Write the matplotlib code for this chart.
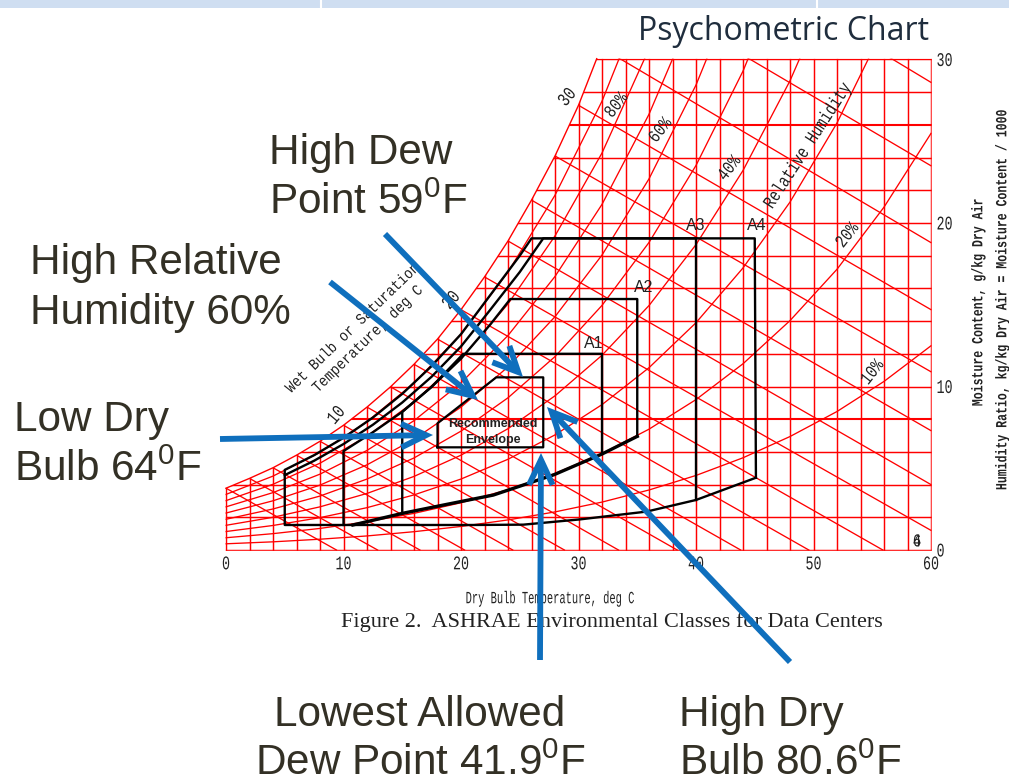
import matplotlib
matplotlib.use("Agg")
import matplotlib.pyplot as plt
from matplotlib.patches import Polygon, Rectangle
from matplotlib.patheffects import AbstractPathEffect
from matplotlib.transforms import Affine2D

plt.rcParams["font.family"] = ["Liberation Sans", "DejaVu Sans"]
plt.rcParams["mathtext.fontset"] = "custom"
plt.rcParams["mathtext.rm"] = "Liberation Sans"
plt.rcParams["mathtext.default"] = "rm"

# chart values
grid_t = list(range(0, 62, 2))
grid_w = list(range(0, 32, 2))

# saturation curve, deg C / g/kg
sat_t = [0, 2, 4, 6, 8, 10, 12, 14, 16, 18, 20, 22, 24, 26, 28, 30, 31.55]
sat_w = [3.78, 4.38, 5.03, 5.80, 6.65, 7.63, 8.74, 9.98, 11.36, 12.9, 14.7, 16.7, 18.9, 21.4, 24.1, 27.2, 30.05]

# relative humidity curves, read every 4 deg C
rh_t = [0, 4, 8, 12, 16, 20, 24, 28, 32, 36, 40, 44, 48, 52, 56, 60]
rh10 = [0.38, 0.50, 0.66, 0.86, 1.12, 1.44, 1.84, 2.33, 2.93, 3.67, 4.56, 5.64, 6.94, 8.47, 10.31, 12.49]
rh20 = [0.75, 1.00, 1.32, 1.73, 2.24, 2.89, 3.69, 4.68, 5.90, 7.39, 9.20, 11.39, 14.03, 17.17, 20.97, 25.48]
rh30 = [1.13, 1.50, 1.98, 2.59, 3.37, 4.34, 5.55, 7.04, 8.89, 11.15, 13.90, 17.25, 21.28, 26.12, 31.99]
rh40 = [1.51, 2.00, 2.64, 3.46, 4.50, 5.80, 7.42, 9.43, 11.91, 14.95, 18.68, 23.21, 28.70, 35.3]
rh50 = [1.88, 2.51, 3.30, 4.34, 5.63, 7.27, 9.31, 11.83, 14.96, 18.81, 23.52, 29.29, 36.3]
rh60 = [2.26, 3.01, 3.97, 5.21, 6.77, 8.74, 11.2, 14.27, 18.04, 22.70, 28.44, 35.5]
rh70 = [2.64, 3.51, 4.64, 6.09, 7.91, 10.22, 13.12, 16.73, 21.14, 26.65, 33.4]
rh80 = [3.02, 4.02, 5.31, 6.96, 9.06, 11.71, 15.05, 19.21, 24.28, 30.65]
rh90 = [3.40, 4.52, 5.97, 7.85, 10.21, 13.2, 17.0, 21.7, 27.45, 34.6]
rh_curves = [rh10, rh20, rh30, rh40, rh50, rh60, rh70, rh80, rh90]

# wet bulb lines, every 2 deg C: start on saturation, end on w=0 or on the right edge
wb_t0 = [0, 2, 4, 6, 8, 10, 12, 14, 16, 18, 20, 22, 24, 26, 28, 30, 32, 34, 36]
wb_w0 = [3.78, 4.38, 5.03, 5.80, 6.65, 7.63, 8.74, 9.98, 11.36, 12.9, 14.7, 16.7, 18.9, 21.4, 24.1, 27.2, 30.7, 34.5, 39.0]
wb_t1 = [9.4, 12.9, 16.5, 20.3, 24.4, 28.8, 33.4, 38.4, 43.8, 49.6, 55.9, 60, 60, 60, 60, 60, 60, 60, 60]
wb_w1 = [0, 0, 0, 0, 0, 0, 0, 0, 0, 0, 0, 1.2, 4.0, 7.3, 10.9, 14.7, 18.8, 23.5, 28.6]

# envelopes
rec_t = [18, 18, 23, 27, 27, 18]
rec_w = [6.28, 7.75, 10.56, 10.56, 6.28, 6.28]
a1_t = [32, 32, 20.2, 17.5, 15, 15]
a1_w = [5.9, 12.0, 12.0, 9.98, 8.45, 2.24]
a2_t = [35, 35, 24.2, 22.5, 20, 17.5, 15, 12.5, 10, 10]
a2_w = [6.95, 15.35, 15.35, 13.8, 11.7, 9.98, 8.45, 7.2, 6.05, 1.53]
a3_t = [40, 40, 27, 25, 22.5, 20, 17.5, 15, 12.5, 10, 7.5, 5]
a3_w = [3.06, 19.06, 19.06, 17.0, 14.7, 12.45, 10.6, 9.02, 7.66, 6.48, 5.46, 4.58]
a4_t = [45.1, 45, 26, 25, 22.5, 20, 17.5, 15, 12.5, 10, 7.5, 5, 5, 21, 25.3, 30.1, 35.8, 40, 45.1]
a4_w = [4.42, 19.06, 19.06, 18.0, 15.6, 13.2, 11.25, 9.55, 8.1, 6.86, 5.8, 4.9, 1.53, 1.53, 1.55, 1.87, 2.35, 3.06, 4.42]
low_t = [10.8, 15, 18.5, 22.75, 27.9, 32, 35]
low_w = [1.53, 2.24, 2.75, 3.36, 4.6, 5.87, 6.95]

xticks = [0, 10, 20, 30, 40, 50, 60]
yticks = [0, 10, 20, 30]

# arrows in picture pixels: (from x, from y, to x, to y)
arrows = [
    (385, 234, 523, 377),
    (330, 282, 478, 400),
    (220, 439, 433, 435),
    (540, 660, 541, 453),
    (790, 662, 547, 407),
]


# the CAD lettering of the scan is tall and narrow, so stretch the glyphs upward
class Tall(AbstractPathEffect):
    def __init__(self, sy):
        super().__init__()
        self.sy = sy

    def draw_path(self, renderer, gc, tpath, affine, rgbFace=None):
        a = Affine2D().scale(1, self.sy).translate(0, -(self.sy - 1) * 33) + affine
        renderer.draw_path(gc, tpath, a, rgbFace)


W, H = 1009, 778
fig = plt.figure(figsize=(W / 100, H / 100), dpi=100)

# main chart
ax = fig.add_axes([226 / W, 1 - 550 / H, (931 - 226) / W, (550 - 59.5) / H])
ax.set_xlim(0, 60)
ax.set_ylim(0, 30)
for s in ax.spines.values():
    s.set_visible(False)

clip = Polygon(list(zip(sat_t, sat_w)) + [(60.06, 30.05), (60.06, -0.05), (-0.06, -0.05), (-0.06, 3.78)],
               transform=ax.transData, fill=False, edgecolor="none")
ax.add_patch(clip)
red = "#ff0000"


def red_line(xs, ys, lw):
    ln = ax.plot(xs, ys, color=red, lw=lw, zorder=1, clip_on=True)[0]
    ln.set_clip_box(None)
    ln.set_clip_path(clip)


for t in grid_t:
    red_line([t, t], [0, 30], 1.05)
for w in grid_w:
    red_line([0, 60], [w, w], 1.5 if w in (8, 26) else 1.05)
ax.plot(sat_t, sat_w, color=red, lw=1.0, zorder=1, clip_on=False)
for c in rh_curves:
    red_line(rh_t[:len(c)], c, 0.95)
for i in range(len(wb_t0)):
    red_line([wb_t0[i], wb_t1[i]], [wb_w0[i], wb_w1[i]], 0.95)

ax.plot(a4_t, a4_w, color="black", lw=1.7, zorder=3)
ax.plot(a3_t, a3_w, color="black", lw=1.7, zorder=3)
ax.plot(a2_t, a2_w, color="black", lw=1.7, zorder=3)
ax.plot(a1_t, a1_w, color="black", lw=1.7, zorder=3)
ax.plot(low_t, low_w, color="black", lw=2.4, zorder=3)
ax.plot(rec_t, rec_w, color="black", lw=1.6, zorder=3)

ax.set_xticks(xticks)
ax.set_yticks(yticks)
ax.yaxis.tick_right()
ax.tick_params(length=0, labelsize=9.6, pad=4)
ax.tick_params(axis="x", pad=6)
for lab in ax.get_xticklabels() + ax.get_yticklabels():
    lab.set_family("Liberation Mono")
    lab.set_color("#222222")
    lab.set_path_effects([Tall(1.45)])

# overlay in picture pixels for the slide text and arrows
ov = fig.add_axes([0, 0, 1, 1], facecolor="none")
ov.set_xlim(0, W)
ov.set_ylim(H, 0)
ov.axis("off")

# slide header strip
ov.add_patch(Rectangle((0, 0), W, 7.5, color="#cfdef1", lw=0))
ov.plot([320.5, 320.5], [0, 7.5], color="white", lw=1.5)
ov.plot([817, 817], [0, 7.5], color="white", lw=1.5)

mono = "Liberation Mono"
ink = "#333025"
dark = "#222222"
ov.text(784, 31, "Psychometric Chart", family="Open Sans", fontsize=23, color="#1f2d3d", ha="center", va="center")


def cad(x, y, s, size, sy, rot=0, **kw):
    t = ov.text(x, y, s, family=mono, fontsize=size, rotation=rot, rotation_mode="anchor",
                ha="center", va="center", color=dark, **kw)
    t.set_path_effects([Tall(sy)])


cad(550, 598, "Dry Bulb Temperature, deg C", 7.5, 1.65)
ov.text(611.5, 622.5, "Figure 2.  ASHRAE Environmental Classes for Data Centers", family="Liberation Serif",
        fontsize=16, ha="center", va="center", color=dark)
cad(978, 303, "Moisture Content, g/kg Dry Air", 8.3, 1.35, rot=90, weight="bold")
cad(1002, 301, "Humidity Ratio, kg/kg Dry Air = Moisture Content / 1000", 8.3, 1.35, rot=90, weight="bold")

cad(567, 97, "30", 10.5, 1.3, rot=50)
cad(451, 300, "20", 10.5, 1.3, rot=50)
cad(336, 415, "10", 10.5, 1.3, rot=50)
cad(352, 328, "Wet Bulb or Saturation", 9.8, 1.15, rot=44)
cad(367, 339, "Temperature, deg C", 9.8, 1.15, rot=44)
for label, x, y in [("80%", 616, 105), ("60%", 660, 130), ("40%", 729, 168), ("20%", 847, 235), ("10%", 872, 372)]:
    cad(x, y, label, 10.5, 1.25, rot=52)
cad(807, 146, "Relative Humidity", 10.3, 1.3, rot=57)
for label, x, y in [("A1", 594, 343), ("A2", 644, 287), ("A3", 696, 225), ("A4", 757, 225)]:
    ov.text(x, y, label, fontsize=11.5, ha="center", va="center", color=dark)
cad(917, 541, "6", 10, 1.3)
cad(917, 541, "4", 10, 1.3)
ov.text(493, 432, "Recommended\nEnvelope", fontsize=9, weight="bold", ha="center", va="center",
        color=dark, linespacing=1.4)

for label, x, y in [
    ("High Dew", 269, 164),
    ("Point 59$^{0}$F", 269, 214),
    ("High Relative", 30, 274),
    ("Humidity 60%", 30, 324),
    ("Low Dry", 14, 431),
    ("Bulb 64$^{0}$F", 14, 481),
    ("Lowest Allowed", 274, 726),
    ("Dew Point 41.9$^{0}$F", 255, 775),
    ("High Dry", 679, 726),
    ("Bulb 80.6$^{0}$F", 679, 775),
]:
    ov.text(x, y, label, fontsize=30.4, color=ink, ha="left", va="baseline")

for x0, y0, x1, y1 in arrows:
    ov.annotate("", xy=(x1, y1), xytext=(x0, y0),
                arrowprops=dict(arrowstyle="->,head_length=1.8,head_width=0.85", color="#0f6fbd", lw=4.2,
                                shrinkA=0, shrinkB=0, mutation_scale=10, capstyle="butt", joinstyle="miter"))

fig.savefig("out.png", dpi=100)
